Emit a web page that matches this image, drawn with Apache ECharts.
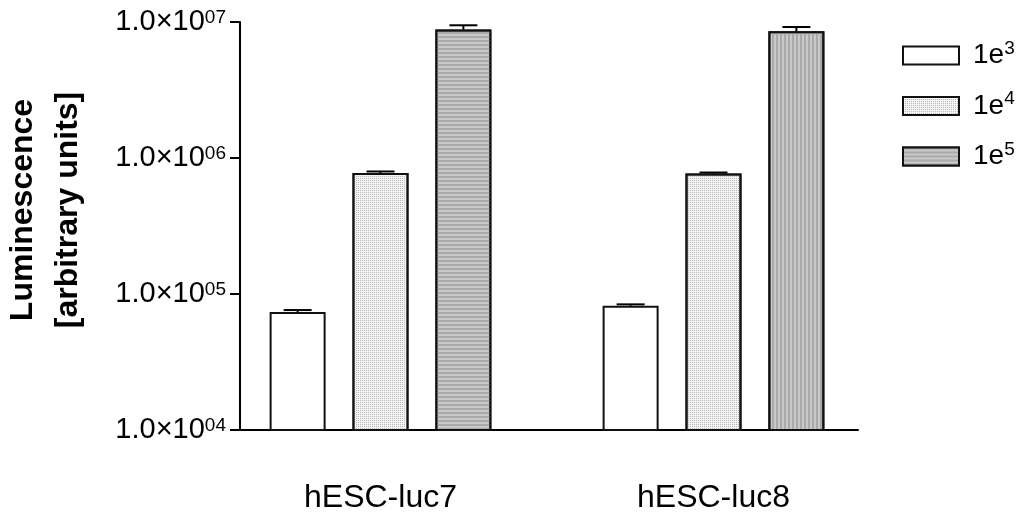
<!DOCTYPE html>
<html><head><meta charset="utf-8">
<script src="https://cdn.jsdelivr.net/npm/echarts@6/dist/echarts.min.js"></script>
<style>html,body{margin:0;padding:0;background:#fff}#c{width:1024px;height:520px}</style>
</head><body><div id="c"></div>
<script>
// ---- data ----
const categories = ['hESC-luc7', 'hESC-luc8'];
const seriesNames = ['1e3', '1e4', '1e5'];
const means1e3 = [73600, 81900];
const means1e4 = [777000, 769000];
const means1e5 = [8790000, 8550000];
const upper1e3 = [76200, 83900];
const upper1e4 = [796000, 782000];
const upper1e5 = [9460000, 9190000];
const yMin = 1e4, yMax = 1e7;
const yTickLabels = { '10000': '04', '100000': '05', '1000000': '06', '10000000': '07' };

// ---- style ----
const FONT = '"Liberation Sans", Arial, sans-serif';
const BAR_W = 56, GAP_RATIO = 0.48;
const border = { borderColor: '#111', borderWidth: 2 };
const decalDots = { symbol: 'rect', symbolSize: 1, dashArrayX: [1, 1], dashArrayY: [1, 1], color: '#b8b8b8' };
const decalH = { symbol: 'rect', symbolSize: 1, dashArrayX: [1, 0], dashArrayY: [2, 2], color: '#a9a9a9' };
const decalV = { symbol: 'rect', symbolSize: 1, dashArrayX: [2, 2], dashArrayY: [1, 0], color: '#a9a9a9' };

const means = [means1e3, means1e4, means1e5];
const uppers = [upper1e3, upper1e4, upper1e5];
const styles = [
  Object.assign({ color: '#ffffff' }, border),
  Object.assign({ color: '#f4f4f4', decal: decalDots }, border),
  Object.assign({ color: '#c9c9c9', decal: decalH }, border)
];

const barSeries = seriesNames.map((n, k) => ({
  name: n, type: 'bar', xAxisIndex: 0, yAxisIndex: 0,
  barWidth: BAR_W, barGap: (GAP_RATIO * 100) + '%',
  itemStyle: styles[k],
  data: means[k].map((v, i) => (k === 2 && i === 1)
    ? { value: v, itemStyle: { decal: decalV } }
    : v)
}));

const errSeries = seriesNames.map((n, k) => ({
  type: 'custom', xAxisIndex: 0, yAxisIndex: 0, z: 5, silent: true,
  data: categories.map((c, i) => [i, means[k][i], uppers[k][i]]),
  renderItem: function (params, api) {
    const off = (k - 1) * BAR_W * (1 + GAP_RATIO);
    const p0 = api.coord([api.value(0), api.value(1)]);
    const p1 = api.coord([api.value(0), api.value(2)]);
    const x = p0[0] + off;
    const cap = 14;
    return {
      type: 'group', children: [
        { type: 'line', shape: { x1: x, y1: p0[1], x2: x, y2: p1[1] }, style: { stroke: '#000', lineWidth: 2 } },
        { type: 'line', shape: { x1: x - cap, y1: p1[1], x2: x + cap, y2: p1[1] }, style: { stroke: '#000', lineWidth: 2 } }
      ]
    };
  }
}));

const chart = echarts.init(document.getElementById('c'), null, { renderer: 'canvas' });
chart.setOption({
  animation: false,
  backgroundColor: '#fff',
  textStyle: { fontFamily: FONT, color: '#000' },
  grid: [
    { left: 214, width: 666, top: 22, height: 408 },
    { left: 240, width: 618, top: 22, height: 408 }
  ],
  xAxis: [
    { type: 'category', gridIndex: 0, data: categories,
      axisLine: { show: false }, axisTick: { show: false },
      axisLabel: { fontSize: 32, color: '#000', margin: 52, fontFamily: FONT } },
    { type: 'value', gridIndex: 1, min: 0, max: 1,
      axisLine: { show: true, lineStyle: { color: '#000', width: 2 } },
      axisTick: { show: false }, axisLabel: { show: false }, splitLine: { show: false } }
  ],
  yAxis: [
    { type: 'log', gridIndex: 0, logBase: 10, min: yMin, max: yMax, show: false },
    { type: 'log', gridIndex: 1, logBase: 10, min: yMin, max: yMax,
      axisLine: { show: true, lineStyle: { color: '#000', width: 2 } },
      axisTick: { show: true, length: 10, lineStyle: { color: '#000', width: 2 } },
      splitLine: { show: false },
      axisLabel: {
        margin: 14, color: '#000', fontSize: 29, fontFamily: FONT,
        formatter: v => '1.0×10{s|' + (yTickLabels[String(Math.round(v))] || '') + '}',
        rich: { s: { fontSize: 19, fontFamily: FONT, color: '#000', padding: [0, 0, 8, 0] } }
      } }
  ],
  legend: {
    orient: 'vertical', left: 897, top: 34, itemWidth: 56, itemHeight: 18, itemGap: 20,
    icon: 'rect', data: seriesNames,
    formatter: n => '1e{s|' + n.slice(2) + '}',
    textStyle: { fontSize: 28, color: '#000', fontFamily: FONT, padding: [0, 0, 0, 9],
      rich: { s: { fontSize: 19, fontFamily: FONT, color: '#000', padding: [0, 0, 14, 0] } } }
  },
  graphic: [{
    type: 'text', x: 46, y: 210, rotation: Math.PI / 2,
    style: { text: 'Luminescence\n[arbitrary units]', font: 'bold 32px ' + FONT, fill: '#000',
      align: 'center', verticalAlign: 'middle', lineHeight: 45 }
  }],
  series: barSeries.concat(errSeries)
});
</script></body></html>
